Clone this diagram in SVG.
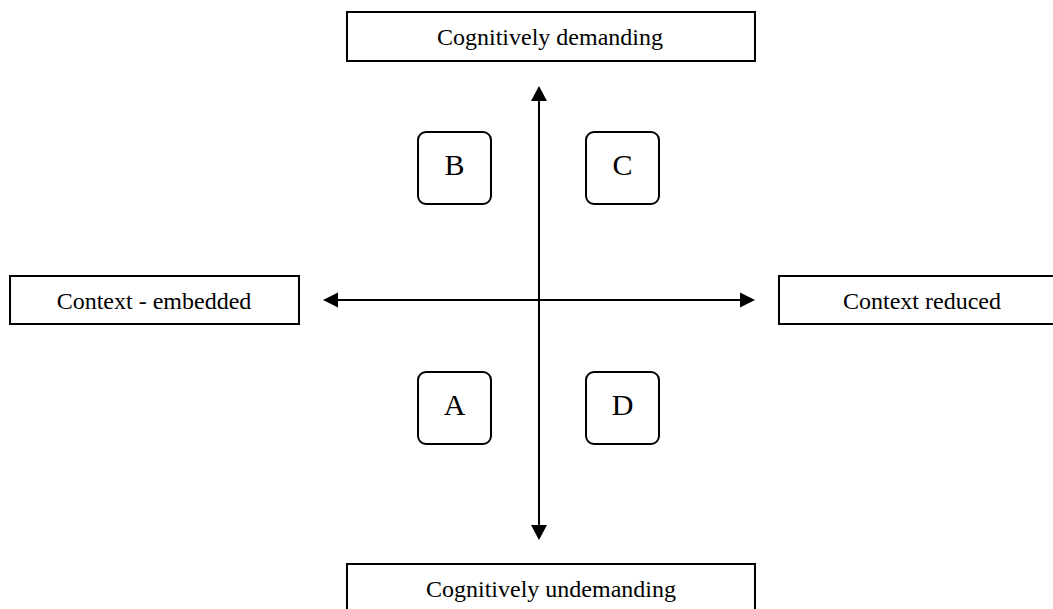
<svg xmlns="http://www.w3.org/2000/svg" width="1053" height="609" viewBox="0 0 1053 609">
<defs>
<style>
.box{fill:#fff;stroke:#000;stroke-width:2}
.q{fill:#fff;stroke:#000;stroke-width:2}
.lbl{font-family:"Liberation Serif","Times New Roman",serif;font-size:24px;fill:#000;text-anchor:middle}
.let{font-family:"Liberation Serif","Times New Roman",serif;font-size:30px;fill:#000;text-anchor:middle}
.ax{stroke:#000;stroke-width:2;fill:none}
</style>
</defs>
<g id="connectors">
<line class="ax" x1="539" y1="299" x2="539" y2="95"/>
<path d="M539,86 L547,101 L531,101 z" fill="#000"/>
<line class="ax" x1="539" y1="299" x2="539" y2="530"/>
<path d="M539,540 L547,525 L531,525 z" fill="#000"/>
<line class="ax" x1="330" y1="300" x2="748" y2="300"/>
<path d="M323,300 L338,292.5 L338,307.5 z" fill="#000"/>
<path d="M755,300 L740,292.5 L740,307.5 z" fill="#000"/>
</g>
<g id="top">
<rect class="box" x="347" y="12" width="408" height="49"/>
<text class="lbl" x="550" y="45">Cognitively demanding</text>
</g>
<g id="bottom">
<path class="box" d="M347,612 L347,564 L755,564 L755,612"/>
<text class="lbl" x="551" y="597">Cognitively undemanding</text>
</g>
<g id="left">
<rect class="box" x="10" y="276" width="289" height="48"/>
<text class="lbl" x="154" y="309">Context - embedded</text>
</g>
<g id="right">
<rect class="box" x="779" y="276" width="290" height="48"/>
<text class="lbl" x="922" y="309">Context reduced</text>
</g>
<g id="B">
<rect class="q" x="418" y="132" width="73" height="72" rx="8"/>
<text class="let" x="454.5" y="175">B</text>
</g>
<g id="C">
<rect class="q" x="586" y="132" width="73" height="72" rx="8"/>
<text class="let" x="622.5" y="175">C</text>
</g>
<g id="A">
<rect class="q" x="418" y="372" width="73" height="72" rx="8"/>
<text class="let" x="454.5" y="415">A</text>
</g>
<g id="D">
<rect class="q" x="586" y="372" width="73" height="72" rx="8"/>
<text class="let" x="622.5" y="415">D</text>
</g>
</svg>
